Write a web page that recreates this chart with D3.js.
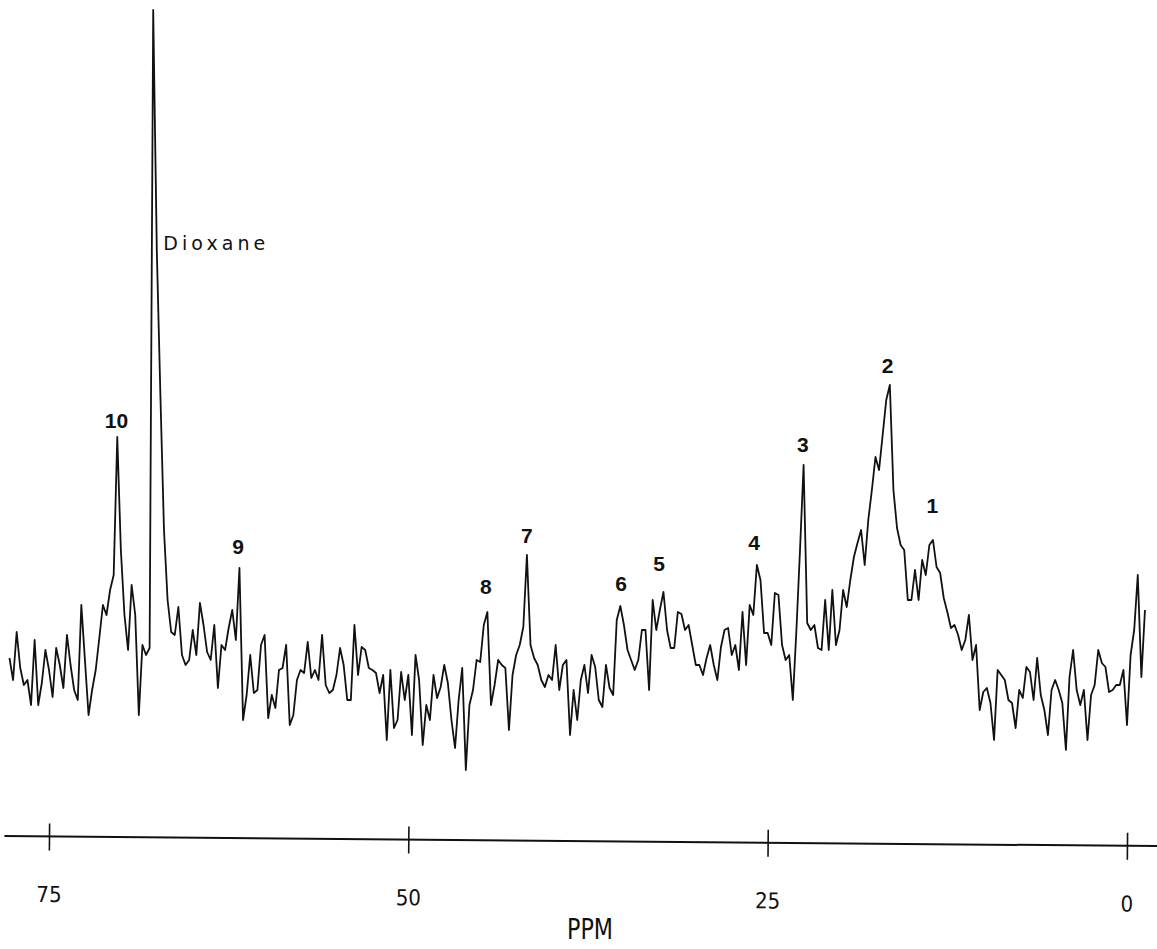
<!DOCTYPE html>
<html>
<head>
<meta charset="utf-8">
<script src="https://cdn.jsdelivr.net/npm/d3@7"></script>
<style>
  body { margin: 0; background: #fff; }
  svg { display: block; }
</style>
</head>
<body>
<svg id="chart" width="1157" height="949"></svg>
<script>
// spectrum sampled every 0.25 ppm, starting at the left edge
const ppmStart = 77.75;
const ppmStep = 0.25;

// intensity readings (arbitrary units), left to right
const trace1 = [42,20,68,32,15,20,-5,60,-5,17, 50,30,3,52,35,12,65,35,10,0,
  95,40,-15,10,30,62,95,85,110,125, 263,150,85,50,115,85,-15,55,45,52];
const trace2 = [690,450,305,170,100,68,65,93,45,35, 40,70,45,97,75,48,40,75,12,55,
  50,72,90,60,132,-20,5,45,7,10, 55,65,-18,5,-8,30,32,55,-25,-15];
const trace3 = [20,30,27,58,22,30,20,65,15,7, 10,25,52,35,0,0,75,25,53,50,
  32,30,27,7,25,-40,30,-28,-20,28, 0,25,-35,45,20,-45,-5,-20,25,2];
const trace4 = [13,35,17,-20,-48,0,32,-70,-5,10, 40,38,75,88,-5,15,40,35,32,-30,
  25,45,55,73,145,55,42,35,20,13, 25,20,55,10,35,40,-35,10,-20,20];
const trace5 = [35,7,45,33,0,-7,35,12,5,80, 94,75,50,40,30,40,70,70,10,100,
  70,90,108,70,52,52,88,86,70,75, 55,35,35,25,42,55,35,20,53,70];
const trace6 = [72,45,55,30,88,35,95,85,135,120, 67,67,55,107,105,55,40,45,0,70,
  150,235,77,70,75,52,50,100,50,110, 55,70,110,93,120,143,157,170,135,180];
const trace7 = [210,243,230,265,300,315,210,172,155,150, 100,100,130,100,140,125,155,160,133,127,
  102,88,72,75,65,50,60,85,40,55, -10,8,12,-3,-40,30,25,20,0,-3];
const trace8 = [-28,10,2,33,28,0,42,5,-10,-35, 10,20,10,-3,-50,23,50,10,-5,10,
  -40,5,15,50,37,33,8,10,15,15, 30,-25,45,70,125,23,90];

// axis
const tickValues = [75, 50, 25, 0];
const axisExtent = [78.1, -2.1];
const axisTitle = "PPM";

// peak labels
const peakNames = ["10", "9", "8", "7", "6", "5", "4", "3", "2", "1"];
const peakPpm = [70.3, 61.85, 44.6, 41.75, 35.2, 32.55, 25.95, 22.55, 16.65, 13.55];
const peakLabelLevel = [280, 154, 114, 165, 117, 137, 158, 256, 335, 195];
const solventName = "Dioxane";
const solventPpm = 67.05;
const solventLevel = 457;

const svg = d3.select("#chart");

const x = d3.scaleLinear().domain([75, 0]).range([49, 1127]);
const y = d3.scaleLinear().domain([-100, 700]).range([800, 0]);

const intensity = [].concat(trace1, trace2, trace3, trace4, trace5, trace6, trace7, trace8);
const spectrum = intensity.map((v, i) => ({ ppm: ppmStart - i * ppmStep, v: v }));

// the trace
const line = d3.line()
  .x(d => x(d.ppm))
  .y(d => y(d.v));

svg.append("path")
  .datum(spectrum)
  .attr("fill", "none")
  .attr("stroke", "#111")
  .attr("stroke-width", 1.8)
  .attr("stroke-linejoin", "round")
  .attr("d", line);

// peak numbers
svg.append("g")
  .selectAll("text")
  .data(peakNames)
  .enter()
  .append("text")
    .attr("x", (d, i) => x(peakPpm[i]))
    .attr("y", (d, i) => y(peakLabelLevel[i]))
    .attr("text-anchor", "middle")
    .attr("dominant-baseline", "central")
    .style("font-family", "Liberation Sans, Arial, sans-serif")
    .style("font-weight", "bold")
    .style("font-size", "21px")
    .style("fill", "#111")
    .text(d => d);

svg.append("text")
  .attr("x", x(solventPpm))
  .attr("y", y(solventLevel))
  .attr("dominant-baseline", "central")
  .attr("textLength", 102)
  .attr("lengthAdjust", "spacing")
  .style("font-family", "DejaVu Sans, sans-serif")
  .style("font-size", "19px")
  .style("fill", "#111")
  .text(solventName);

// axis, slightly tilted like the scan
const axisG = svg.append("g")
  .attr("transform", "translate(0,836) rotate(0.5)");

axisG.append("line")
  .attr("x1", x(axisExtent[0]))
  .attr("x2", x(axisExtent[1]))
  .attr("stroke", "#111")
  .attr("stroke-width", 2);

const axis = d3.axisBottom(x)
  .tickValues(tickValues)
  .tickSize(27)
  .tickFormat(d3.format("d"));

axisG.append("g")
  .call(axis)
  .call(g => g.select(".domain").remove())
  .call(g => g.selectAll(".tick line")
    .attr("y1", -13)
    .attr("y2", 14)
    .attr("stroke", "#111")
    .attr("stroke-width", 1.6))
  .call(g => g.selectAll(".tick text")
    .attr("y", 58)
    .attr("dy", "0.35em")
    .attr("fill", "#111")
    .style("font-family", "DejaVu Sans Condensed, DejaVu Sans, sans-serif")
    .style("font-stretch", "condensed")
    .style("font-size", "22px"));

svg.append("text")
  .attr("x", 590)
  .attr("y", 939)
  .attr("text-anchor", "middle")
  .attr("textLength", 46)
  .attr("lengthAdjust", "spacingAndGlyphs")
  .style("font-family", "DejaVu Sans Condensed, DejaVu Sans, sans-serif")
  .style("font-size", "28px")
  .style("fill", "#111")
  .text(axisTitle);
</script>
</body>
</html>
